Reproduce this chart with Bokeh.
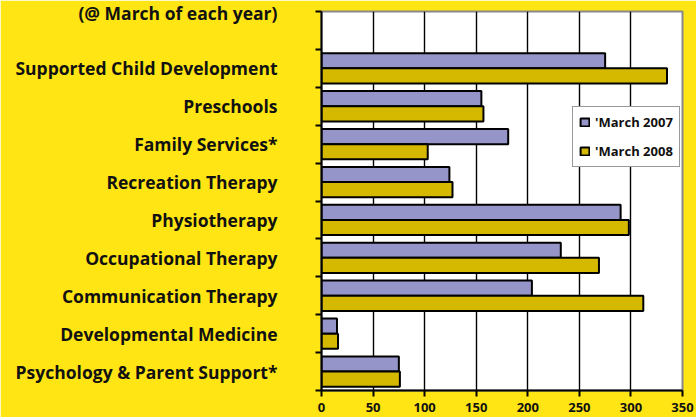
from bokeh.plotting import figure
from bokeh.models import ColumnDataSource, FixedTicker, Range1d, Legend, LegendItem
from bokeh.embed import file_html
from bokeh.resources import INLINE

# ---- data ----
categories = [
    "Psychology & Parent Support*",
    "Developmental Medicine",
    "Communication Therapy",
    "Occupational Therapy",
    "Physiotherapy",
    "Recreation Therapy",
    "Family Services*",
    "Preschools",
    "Supported Child Development",
]
march_2007 = [75, 15, 204, 232, 290, 124, 181, 155, 275]
march_2008 = [76, 16, 312, 269, 298, 127, 103, 157, 335]
series_names = ["'March 2007", "'March 2008"]
x_ticks = [0, 50, 100, 150, 200, 250, 300, 350]
title_text = "(@ March of each year)"

# ---- style ----
YELLOW = "#FFE514"
PURPLE = "#9595C9"
GOLD = "#D5B800"
TEXT = "#111111"
FONT = "Open Sans"

n_slots = len(categories) + 1  # one empty slot on top
centers = [i + 0.5 for i in range(len(categories))]
bounds = list(range(n_slots + 1))

src = ColumnDataSource(dict(
    cat=categories,
    y07=[c + 0.2 for c in centers],
    y08=[c - 0.2 for c in centers],
    v07=march_2007,
    v08=march_2008,
))

p = figure(
    width=696, height=417,
    output_backend="svg", toolbar_location=None,
    x_range=Range1d(x_ticks[0], x_ticks[-1]),
    y_range=Range1d(0, n_slots),
    min_border_left=321, min_border_right=14,
    min_border_top=11, min_border_bottom=27,
)
p.stylesheets = [":host { position: absolute !important; left: 0px !important; top: 0px !important; }"]
p.border_fill_color = YELLOW
p.background_fill_color = "white"
p.outline_line_color = "#888888"
p.outline_line_width = 2

r07 = p.hbar(y="y07", right="v07", left=0, height=0.4, source=src,
             fill_color=PURPLE, line_color="black", line_width=2)
r08 = p.hbar(y="y08", right="v08", left=0, height=0.4, source=src,
             fill_color=GOLD, line_color="black", line_width=2)

# x axis
xa = p.xaxis[0]
xa.ticker = FixedTicker(ticks=x_ticks)
xa.axis_line_color = "black"
xa.axis_line_width = 2
xa.major_tick_line_color = "black"
xa.major_tick_line_width = 2
xa.major_tick_out = 6
xa.major_tick_in = 0
xa.minor_tick_line_color = None
xa.major_label_text_font = FONT
xa.major_label_text_font_style = "bold"
xa.major_label_text_font_size = "13px"
xa.major_label_text_color = TEXT
xa.major_label_standoff = 6

# y axis: category names at slot centres, ticks at slot boundaries,
# and the chart's (partly hidden) heading sits at the top of the axis
ya = p.yaxis[0]
ya.ticker = FixedTicker(ticks=centers + [n_slots], minor_ticks=bounds)
overrides = {c: name for c, name in zip(centers, categories)}
overrides[n_slots] = title_text
ya.major_label_overrides = overrides
ya.axis_line_color = "black"
ya.axis_line_width = 2
ya.major_tick_line_color = None
ya.major_tick_out = 0
ya.major_tick_in = 0
ya.minor_tick_line_color = "black"
ya.minor_tick_line_width = 2
ya.minor_tick_out = 6
ya.minor_tick_in = 0
ya.major_label_text_font = FONT
ya.major_label_text_font_style = "bold"
ya.major_label_text_font_size = "17.5px"
ya.major_label_text_color = TEXT
ya.major_label_standoff = 38

p.xgrid.grid_line_color = "black"
p.xgrid.grid_line_width = 1.4
p.ygrid.grid_line_color = None

legend = Legend(
    items=[LegendItem(label=series_names[0], renderers=[r07]),
           LegendItem(label=series_names[1], renderers=[r08])],
    location=(251, 223),
    orientation="vertical",
    background_fill_color="white", background_fill_alpha=1,
    border_line_color="#333333", border_line_width=1.2,
    padding=6, margin=0, spacing=11,
    glyph_width=11, glyph_height=10, label_height=12,
    label_standoff=5,
    label_text_font=FONT, label_text_font_style="bold",
    label_text_font_size="13px", label_text_color=TEXT,
)
p.add_layout(legend, "center")

open("out.html", "w").write(file_html(p, INLINE))
